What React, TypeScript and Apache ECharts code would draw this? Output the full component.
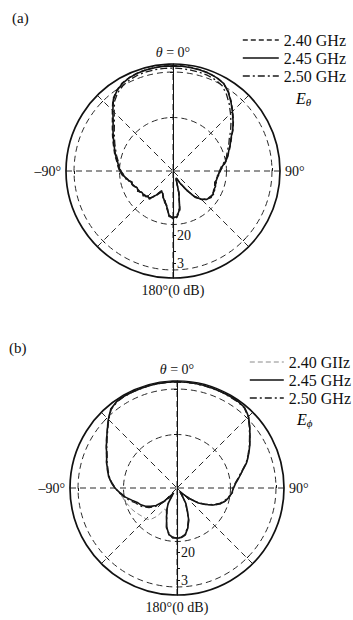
import React, { useEffect, useRef } from 'react';
import * as echarts from 'echarts';

// Polar angle θ in degrees (0° at top, clockwise positive, -90° on the left)
const ANGLES = [
  -180, -175, -170, -165, -160, -155, -150, -145, -140, -135, -130, -125,
  -120, -115, -110, -105, -100, -95, -90, -85, -80, -75, -70, -65,
  -60, -55, -50, -45, -40, -35, -30, -25, -20, -15, -10, -5,
  0, 5, 10, 15, 20, 25, 30, 35, 40, 45, 50, 55,
  60, 65, 70, 75, 80, 85, 90, 95, 100, 105, 110, 115,
  120, 125, 130, 135, 140, 145, 150, 155, 160, 165, 170, 175,
];

// (a) E_theta, normalised gain in dB
const A_240 = [
  -22.0, -23.6, -26.0, -28.6, -29.0, -31.2, -30.6, -28.4, -27.0, -26.0, -26.2, -25.4,
  -25.4, -24.7, -24.4, -23.3, -22.8, -21.0, -20.0, -19.3, -18.6, -17.5, -16.5, -15.3,
  -13.9, -12.3, -10.4, -7.9, -5.0, -3.2, -2.0, -1.4, -1.0, -0.8, -0.7, -0.6,
  -0.6, -0.6, -0.7, -0.8, -1.0, -1.4, -2.1, -3.8, -6.1, -8.4, -10.5, -12.5,
  -14.7, -16.2, -17.6, -18.9, -19.9, -21.2, -22.6, -22.8, -23.6, -23.2, -23.5, -22.8,
  -23.0, -22.6, -23.8, -24.8, -27.8, -31.2, -35.2, -36.8, -36.0, -32.0, -25.2, -22.6,
];
const A_245 = [
  -22.4, -23.2, -26.5, -28.2, -29.4, -30.8, -31.2, -29.0, -26.6, -26.5, -25.7, -25.9,
  -25.0, -25.2, -24.1, -23.8, -22.5, -21.4, -20.2, -19.6, -18.9, -17.8, -16.8, -15.6,
  -14.2, -12.6, -10.8, -8.2, -5.3, -3.4, -2.2, -1.5, -1.1, -0.9, -0.8, -0.7,
  -0.7, -0.7, -0.8, -0.9, -1.1, -1.5, -2.2, -4.0, -6.3, -8.6, -10.7, -12.7,
  -14.9, -16.4, -17.8, -18.8, -20.1, -21.6, -22.3, -23.1, -23.3, -23.6, -23.1, -23.2,
  -22.7, -22.9, -23.5, -25.1, -27.4, -31.6, -34.8, -37.0, -36.4, -31.5, -25.6, -22.9,
];
const A_250 = [
  -22.8, -22.9, -26.9, -27.8, -29.8, -30.4, -31.6, -29.4, -26.2, -26.8, -25.4, -26.2,
  -24.7, -25.5, -23.8, -24.2, -22.2, -21.7, -20.5, -19.9, -19.2, -18.2, -17.2, -16.0,
  -14.7, -13.2, -11.4, -8.9, -6.0, -4.1, -2.9, -2.2, -1.8, -1.6, -1.5, -1.5,
  -1.5, -1.6, -1.7, -1.8, -2.0, -2.4, -3.2, -5.1, -7.3, -9.6, -11.7, -13.7,
  -15.7, -17.0, -18.4, -19.3, -20.6, -21.9, -22.6, -23.4, -23.0, -23.9, -23.4, -23.0,
  -22.5, -23.2, -23.3, -25.4, -27.0, -31.9, -34.4, -37.2, -36.8, -31.0, -26.0, -23.2,
];

// (b) E_phi, normalised gain in dB
const B_240 = [
  -21.0, -21.8, -22.0, -25.4, -28.2, -30.4, -31.0, -27.2, -24.6, -23.6, -23.3, -22.7,
  -22.0, -21.3, -20.8, -20.0, -19.4, -18.3, -16.6, -15.1, -13.8, -12.9, -11.8, -10.8,
  -9.3, -7.7, -5.8, -3.5, -1.4, -0.5, -0.3, -0.3, -0.3, -0.3, -0.2, -0.2,
  -0.2, -0.2, -0.3, -0.3, -0.3, -0.3, -0.3, -0.4, -0.6, -2.0, -4.3, -6.5,
  -8.4, -10.3, -12.1, -14.4, -16.2, -17.7, -18.7, -19.6, -20.0, -21.0, -22.5, -24.6,
  -27.3, -30.0, -33.4, -36.2, -38.0, -36.6, -33.0, -30.4, -27.0, -24.2, -22.0, -21.2,
];
const B_245 = [
  -21.2, -21.5, -22.4, -25.0, -28.6, -31.0, -33.4, -37.8, -35.6, -32.7, -29.8, -28.0,
  -26.4, -25.1, -24.2, -22.5, -20.4, -18.7, -16.8, -15.3, -14.0, -13.1, -12.0, -11.0,
  -9.5, -7.9, -6.0, -3.7, -1.5, -0.6, -0.4, -0.4, -0.4, -0.3, -0.3, -0.3,
  -0.3, -0.3, -0.3, -0.3, -0.4, -0.4, -0.4, -0.4, -0.7, -2.2, -4.5, -6.7,
  -8.6, -10.5, -12.3, -14.6, -16.4, -17.9, -18.9, -19.4, -20.2, -21.3, -22.8, -25.0,
  -27.7, -30.2, -33.8, -36.6, -38.4, -37.0, -33.5, -31.0, -27.2, -24.5, -22.2, -21.4,
];
const B_250 = [
  -21.4, -21.2, -22.8, -24.6, -28.9, -31.3, -33.8, -37.0, -34.8, -31.8, -29.0, -27.2,
  -25.8, -24.4, -23.6, -21.8, -20.0, -18.4, -16.9, -15.5, -14.2, -13.3, -12.2, -11.2,
  -9.7, -8.1, -6.2, -3.9, -1.7, -0.8, -0.5, -0.5, -0.5, -0.4, -0.4, -0.4,
  -0.4, -0.4, -0.4, -0.5, -0.5, -0.5, -0.6, -0.6, -0.9, -2.4, -4.7, -6.9,
  -8.8, -10.7, -12.5, -14.8, -16.6, -18.1, -19.1, -19.2, -20.5, -21.6, -23.1, -25.3,
  -28.0, -30.5, -34.0, -36.9, -38.2, -37.2, -33.8, -31.4, -27.5, -24.9, -22.4, -21.6,
];

const NAMES_A = ['2.40 GHz', '2.45 GHz', '2.50 GHz'];
const NAMES_B = ['2.40 GIIz', '2.45 GHz', '2.50 GHz'];

// Angle-axis labels
const ANGLE_LABEL_VALUES = [-180, -90, 0, 90];
const ANGLE_LABELS = ['180°(0 dB)', '–90°', '{i|θ} = 0°', '90°'];

// Radial scale (dB): dashed reference circles, tick marks and tick labels
const R_MIN = -40;
const R_MAX = 0;
const CIRCLE_LEVELS = [-20, -3];
const RADIAL_TICKS = [-16, -10, -5.5];
const RADIAL_LABEL_VALUES = [-16, -5.5];
const RADIAL_LABELS = ['20', '3'];
// short cross marks on the 45° / 90° spokes (screen angle, ccw from east)
const SPOKE_DIRECTIONS = [0, 45, 135, 180, 225, 315];
const SPOKE_MARK = [-3];

const FONT = '"Liberation Serif", "Times New Roman", serif';
const INK = '#111';
const GRID = '#2a2a2a';
const GRID_DASH = [6, 4];

const PANELS = [
  { center: [173, 171], radius: 107, names: NAMES_A, values: [A_240, A_245, A_250], faint: false },
  { center: [177, 488], radius: 107, names: NAMES_B, values: [B_240, B_245, B_250], faint: true },
];

function closedRing(vals: number[]) {
  const pts = ANGLES.map((a, i) => [vals[i], a]);
  pts.push([vals[0], 180]);
  return pts;
}

function buildOption() {
  const polar: any[] = [];
  const angleAxis: any[] = [];
  const radiusAxis: any[] = [];
  const series: any[] = [];

  // an extra polar frame that only contributes a radial line / ticks
  const addFrame = (
    p: any,
    startAngle: number,
    opts: { line?: boolean; ticks?: number[]; inside?: boolean; circles?: boolean },
  ) => {
    const idx = polar.length;
    polar.push({ center: p.center, radius: p.radius });
    angleAxis.push({ polarIndex: idx, type: 'value', min: -180, max: 180, startAngle, show: false });
    radiusAxis.push({
      polarIndex: idx,
      type: 'value',
      min: R_MIN,
      max: R_MAX,
      axisLine: { show: !!opts.line, lineStyle: { color: INK, width: 1 } },
      axisTick: {
        show: !!opts.ticks,
        customValues: opts.ticks || [],
        inside: !!opts.inside,
        length: 3,
        lineStyle: { color: INK, width: 1 },
      },
      axisLabel: { show: false },
      splitLine: {
        show: !!opts.circles,
        lineStyle: { color: GRID, width: 1, type: GRID_DASH },
      },
    });
  };

  PANELS.forEach((p) => {
    const main = polar.length;
    polar.push({ center: p.center, radius: p.radius });

    // main polar: θ axis with 0° on top, radial axis drawn downwards
    angleAxis.push({
      polarIndex: main,
      type: 'value',
      min: -180,
      max: 180,
      interval: 45,
      startAngle: 270,
      clockwise: true,
      axisLine: { show: true, lineStyle: { color: INK, width: 1.7 } },
      axisTick: { show: false },
      splitLine: { show: true, lineStyle: { color: GRID, width: 1, type: GRID_DASH } },
      axisLabel: {
        customValues: ANGLE_LABEL_VALUES,
        formatter: (v: number) => ANGLE_LABELS[ANGLE_LABEL_VALUES.indexOf(v)],
        margin: 5,
        color: INK,
        fontFamily: FONT,
        fontSize: 14,
        rich: { i: { fontStyle: 'italic', fontFamily: FONT, fontSize: 14, color: INK } },
      },
    });
    radiusAxis.push({
      polarIndex: main,
      type: 'value',
      min: R_MIN,
      max: R_MAX,
      axisLine: { show: true, lineStyle: { color: INK, width: 1.1 } },
      axisTick: { show: true, customValues: RADIAL_TICKS, length: 3, lineStyle: { color: INK, width: 1 } },
      axisLabel: {
        show: true,
        customValues: RADIAL_LABEL_VALUES,
        formatter: (v: number) => RADIAL_LABELS[RADIAL_LABEL_VALUES.indexOf(v)],
        margin: 4,
        color: INK,
        fontFamily: FONT,
        fontSize: 14,
      },
      splitLine: { show: false },
    });

    // other half of the downward cross ticks
    addFrame(p, 270, { ticks: RADIAL_TICKS, inside: true });
    // upward radial line, its -20 dB tick and the dashed reference circles
    addFrame(p, 90, { line: true, ticks: CIRCLE_LEVELS, circles: true });
    addFrame(p, 90, { ticks: [CIRCLE_LEVELS[0]], inside: true });
    // cross marks on the spokes
    SPOKE_DIRECTIONS.forEach((a) => {
      addFrame(p, a, { ticks: SPOKE_MARK });
      addFrame(p, a, { ticks: SPOKE_MARK, inside: true });
    });

    const styles = [
      { type: [5, 3], width: p.faint ? 1 : 1.3, color: p.faint ? '#8a8a8a' : '#222' },
      { type: 'solid', width: 1.6, color: INK },
      { type: [7, 3, 2, 3], width: 1.3, color: '#1a1a1a' },
    ];
    p.names.forEach((name, j) => {
      series.push({
        type: 'line',
        name,
        coordinateSystem: 'polar',
        polarIndex: main,
        symbol: 'none',
        smooth: false,
        data: closedRing(p.values[j]),
        lineStyle: styles[j],
        itemStyle: { color: styles[j].color },
        z: 3 + j,
      });
    });
  });

  const legendBase = {
    orient: 'vertical',
    itemHeight: 16,
    itemGap: 2,
    padding: 0,
    selectedMode: false,
    itemStyle: { opacity: 0 },
    lineStyle: { width: 'inherit' },
    textStyle: { fontFamily: FONT, fontSize: 16, color: INK },
  };

  return {
    animation: false,
    backgroundColor: '#fff',
    textStyle: { fontFamily: FONT },
    polar,
    angleAxis,
    radiusAxis,
    legend: [
      { ...legendBase, data: NAMES_A, left: 242, top: 32, itemWidth: 36 },
      { ...legendBase, data: NAMES_B, left: 249, top: 354, itemWidth: 34 },
    ],
    graphic: [
      { type: 'text', left: 12, top: 10, style: { text: '(a)', font: `15px ${FONT}`, fill: INK } },
      { type: 'text', left: 9, top: 340, style: { text: '(b)', font: `15px ${FONT}`, fill: INK } },
      {
        type: 'text',
        left: 296,
        top: 90,
        style: {
          text: '{e|E}{s|θ}',
          rich: {
            e: { fontFamily: FONT, fontStyle: 'italic', fontSize: 16, color: INK },
            s: { fontFamily: FONT, fontStyle: 'italic', fontSize: 11, color: INK, padding: [7, 0, 0, 0] },
          },
        },
      },
      {
        type: 'text',
        left: 297,
        top: 411,
        style: {
          text: '{e|E}{s|ϕ}',
          rich: {
            e: { fontFamily: FONT, fontStyle: 'italic', fontSize: 16, color: INK },
            s: { fontFamily: FONT, fontStyle: 'italic', fontSize: 11, color: INK, padding: [7, 0, 0, 0] },
          },
        },
      },
    ],
    series,
  };
}

export default function App() {
  const ref = useRef<HTMLDivElement>(null);
  useEffect(() => {
    if (!ref.current) return;
    const chart = echarts.init(ref.current, null, { renderer: 'svg' });
    chart.setOption(buildOption() as any);
    return () => chart.dispose();
  }, []);
  return (
    <div
      ref={ref}
      style={{ position: 'fixed', left: 0, top: 0, width: 353, height: 620, background: '#fff' }}
    />
  );
}
